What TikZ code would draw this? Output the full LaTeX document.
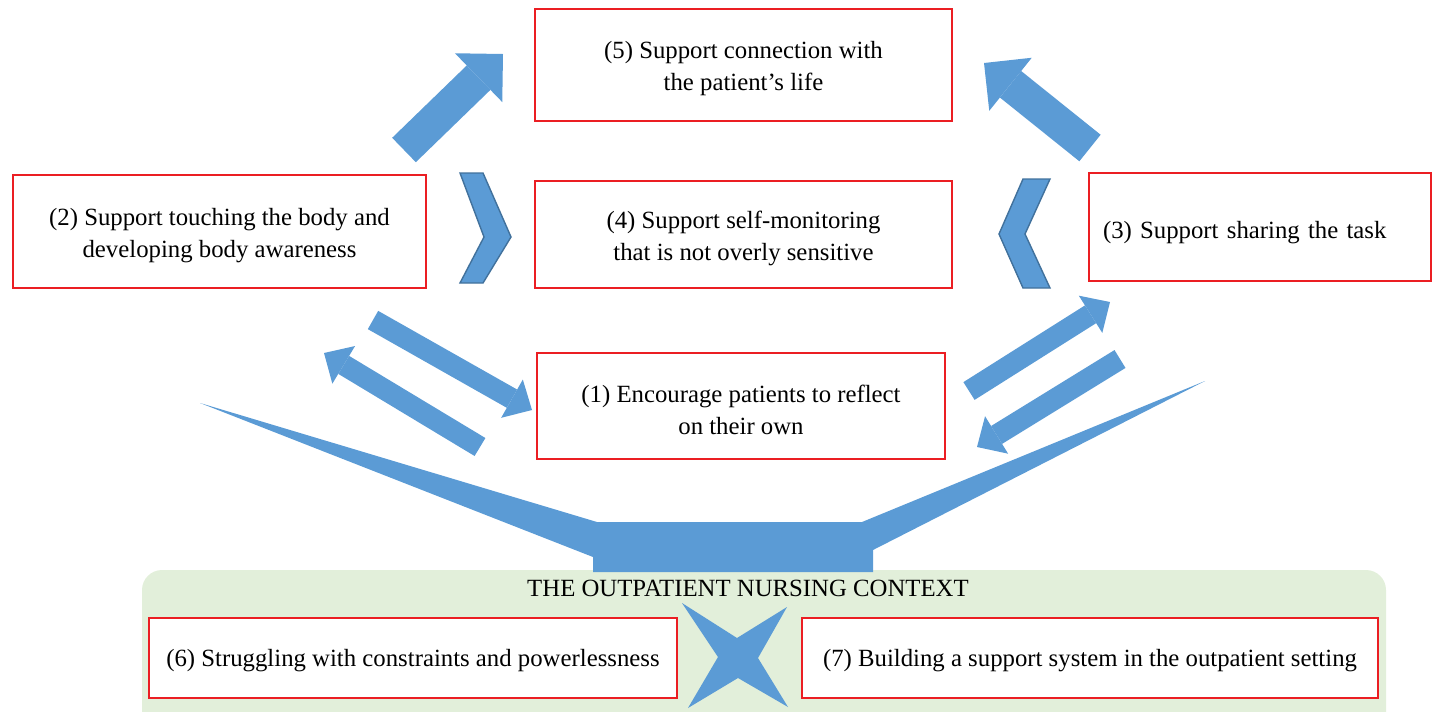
\documentclass[tikz,border=0pt]{standalone}
\usepackage{fontspec}
\setmainfont{Liberation Serif}
\usetikzlibrary{arrows.meta}

\definecolor{arrowblue}{RGB}{91,155,213}
\definecolor{edgeblue}{RGB}{65,113,156}
\definecolor{boxred}{RGB}{235,30,35}
\definecolor{ctxgreen}{RGB}{226,239,218}
\newcommand\liftline{\rule{0pt}{14pt}}

\begin{document}
\begin{tikzpicture}[x=0.02cm,y=-0.02cm,
  taskbox/.style={draw=boxred,line width=1.1pt,fill=white,inner sep=0pt,align=center,
    font=\fontsize{14.1}{18.1}\selectfont},
  bigarrow/.style={arrowblue,line width=0.68cm,
    -{Triangle[length=0.68cm,width=1.36cm,line width=0pt]}},
  smallarrow/.style={arrowblue,line width=0.42cm,
    -{Triangle[length=0.46cm,width=0.88cm,line width=0pt]}},
  chevron/.style={fill=arrowblue,draw=edgeblue,line width=0.8pt,line join=miter}]
\useasboundingbox (0,0) rectangle (1434,711);

% context band
\begin{scope}
\clip (0,0) rectangle (1434,711);
\fill[ctxgreen,rounded corners=0.4cm] (142,570) rectangle (1386,760);
\end{scope}

% funnel into the context
\fill[arrowblue] (200,403) -- (597,522) -- (862,522) -- (1205,381) -- (873,550)
  -- (873,572) -- (593,572) -- (593,557) -- cycle;

\node [taskbox,minimum width=8.34cm,minimum height=2.24cm] (connect) at (743.5,65) {\liftline(5) Support connection with\\the patient's life};
\node [taskbox,minimum width=8.26cm,minimum height=2.26cm] (touch) at (219.5,231.5) {\liftline(2) Support touching the body and\\developing body awareness};
\node [taskbox,minimum width=8.34cm,minimum height=2.14cm] (monitor) at (743.5,234.5) {\liftline(4) Support self-monitoring\\that is not overly sensitive};
\node [taskbox,align=left,text width=6.28cm,minimum width=6.84cm,minimum height=2.16cm,
  execute at begin node={\rule{0pt}{16pt}}] (share) at (1260,227) {(3) Support sharing the task};
\node [taskbox,minimum width=8.16cm,minimum height=2.12cm] (reflect) at (741,406) {\liftline(1) Encourage patients to reflect\\on their own};

\node [font=\fontsize{14.1}{18.1}\selectfont] (ctxtitle) at (748,588) {THE OUTPATIENT NURSING CONTEXT};
\node [taskbox,minimum width=10.56cm,minimum height=1.6cm] (struggle) at (413,658) {\rule{0pt}{13pt}(6) Struggling with constraints and powerlessness};
\node [taskbox,minimum width=11.52cm,minimum height=1.6cm] (support) at (1090,658) {\rule{0pt}{13pt}(7) Building a support system in the outpatient setting};

% star between (6) and (7)
\fill[arrowblue] (682,603) -- (737,638) -- (787,607) -- (758,658) -- (788,707)
  -- (738,678) -- (688,708) -- (718,657) -- cycle;

% chevrons towards (4)
\draw[chevron] (460,173) -- (483,173) -- (511,237) -- (483,283) -- (460,283) -- (484,237) -- cycle;
\draw[chevron] (1050,179) -- (1023,179) -- (999,234) -- (1023,288) -- (1050,288) -- (1025,234) -- cycle;

\coordinate (touchup) at (404,150);
\coordinate (connectl) at (503,54);
\coordinate (shareup) at (1090,148);
\coordinate (connectr) at (984,63);
\coordinate (touchout) at (373,320);
\coordinate (reflectl) at (532,410);
\coordinate (reflectlout) at (480,447);
\coordinate (touchin) at (324,353);
\coordinate (reflectrout) at (969,391);
\coordinate (sharein) at (1110,302);
\coordinate (shareout) at (1120,359);
\coordinate (reflectr) at (977,447);

\draw[bigarrow] (touchup) -- (connectl);
\draw[bigarrow] (shareup) -- (connectr);
\draw[smallarrow] (touchout) -- (reflectl);
\draw[smallarrow] (reflectlout) -- (touchin);
\draw[smallarrow] (reflectrout) -- (sharein);
\draw[smallarrow] (shareout) -- (reflectr);
\end{tikzpicture}
\end{document}
